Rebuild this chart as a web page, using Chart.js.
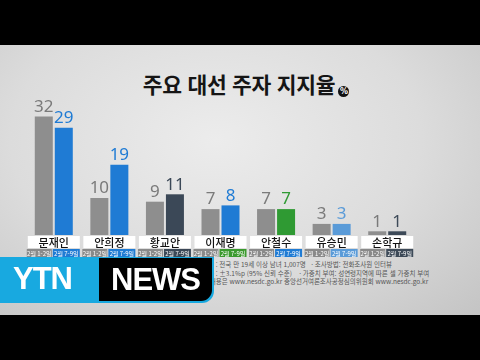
<!DOCTYPE html>
<html lang="ko">
<head>
<meta charset="utf-8">
<script src="https://cdn.jsdelivr.net/npm/chart.js@4"></script>
<style>
  html, body { margin: 0; padding: 0; background: #000; }
  body { width: 480px; height: 360px; position: relative; overflow: hidden; font-family: "Noto Sans CJK KR", "Noto Sans", sans-serif; }
  #panel {
    position: absolute; left: 0; top: 45px; width: 480px; height: 270px;
    background: radial-gradient(ellipse at 45% 35%, #ececec 0%, #dcdcdc 55%, #c4c4c4 100%);
  }
  #title {
    position: absolute; left: 6px; top: 68px; width: 480px; text-align: center;
    font-size: 21.5px; font-weight: 700; color: #151515; letter-spacing: -0.3px;
  }
  #title .pct {
    display: inline-block; width: 11px; height: 11px; border-radius: 50%;
    background: #111; color: #fff; font-size: 8px; line-height: 11px;
    text-align: center; vertical-align: -1px; margin-left: 3px; font-family: "DejaVu Sans", sans-serif;
  }
  #chartBox { position: absolute; left: 0; top: 0; width: 480px; height: 360px; }
  #notes {
    position: absolute; left: 190px; top: 260px; font-size: 6.5px; line-height: 8.5px;
    color: #555; white-space: nowrap;
  }
  #logo {
    position: absolute; left: 0; top: 257px; width: 214px; height: 46px;
    background: #18a9e0; border-radius: 0 0 12px 0;
  }
  #logo .ytn {
    position: absolute; left: 13px; top: 4px; color: #fff; font: 700 31px "Liberation Sans", Arial, sans-serif;
    letter-spacing: -1px;
  }
  #logo .news {
    position: absolute; left: 99px; top: 1px; width: 113px; height: 43px; background: #000;
    border-radius: 0 0 11px 0; color: #fff; font: 700 31px "Liberation Sans", Arial, sans-serif;
    text-align: center; line-height: 43px; letter-spacing: -1px;
  }
</style>
</head>
<body>
<div id="panel"></div>
<div id="title">주요 대선 주자 지지율<span class="pct">%</span></div>
<div id="notes">
  조사대상 : 전국 만 19세 이상 남녀 1,007명 &nbsp;&nbsp;· 조사방법: 전화조사원 인터뷰<br>
  표본오차 : ±3.1%p (95% 신뢰 수준) &nbsp;&nbsp;&nbsp;· 가중치 부여: 성연령지역에 따른 셀 가중치 부여<br>
  자세한 내용은 www.nesdc.go.kr 중앙선거여론조사공정심의위원회 www.nesdc.go.kr
</div>
<div id="chartBox"><canvas id="chart" width="480" height="360"></canvas></div>
<div id="logo"><span class="ytn">YTN</span><div class="news">NEWS</div></div>

<script>
// data
const candidates = ["문재인", "안희정", "황교안", "이재명", "안철수", "유승민", "손학규"];
const periods = ["2월 1-2일", "2월 7-9일"];
const firstPoll = [32, 10, 9, 7, 7, 3, 1];
const secondPoll = [29, 19, 11, 8, 7, 3, 1];

// colours
const grey = "#8e8e8e";
const secondColors = ["#1f7bd4", "#1f7bd4", "#3b4857", "#1f7bd4", "#2f9a33", "#5a9bd8", "#3d4a58"];
const tagColors = ["#1f7bd4", "#1f7bd4", "#3b4857", "#3b9a2e", "#1f7bd4", "#5a9bd8", "#3d4a58"];

const labelPlugin = {
  id: "labels",
  afterDatasetsDraw(chart) {
    const ctx = chart.ctx;
    const x = chart.scales.x;
    const base = chart.scales.y.getPixelForValue(0);
    ctx.save();
    // value numbers
    chart.data.datasets.forEach((ds, di) => {
      chart.getDatasetMeta(di).data.forEach((bar, i) => {
        ctx.fillStyle = di === 0 ? "#7a7a7a" : secondColors[i];
        ctx.font = "17px 'Noto Sans', sans-serif";
        ctx.textAlign = "center";
        ctx.textBaseline = "bottom";
        ctx.fillText(ds.data[i], bar.x, bar.y - 1);
      });
    });
    // name boxes and period tags
    candidates.forEach((name, i) => {
      const cx = x.getPixelForValue(i);
      ctx.fillStyle = "#fff";
      ctx.fillRect(cx - 26, base + 1, 52, 12);
      ctx.fillStyle = "#111";
      ctx.font = "500 11px 'Noto Sans CJK KR', sans-serif";
      ctx.textAlign = "center";
      ctx.textBaseline = "middle";
      ctx.fillText(name, cx, base + 7.5);

      ctx.fillStyle = "#8a8a8a";
      ctx.fillRect(cx - 27, base + 14, 25, 8);
      ctx.fillStyle = tagColors[i];
      ctx.fillRect(cx - 1, base + 14, 27, 8);
      ctx.fillStyle = "#fff";
      ctx.font = "6px 'Noto Sans CJK KR', sans-serif";
      ctx.fillText(periods[0], cx - 14.5, base + 18.5);
      ctx.fillText(periods[1], cx + 12.5, base + 18.5);
    });
    ctx.restore();
  }
};

new Chart(document.getElementById("chart"), {
  type: "bar",
  data: {
    labels: candidates,
    datasets: [
      { label: periods[0], data: firstPoll, backgroundColor: grey, barPercentage: 0.9, categoryPercentage: 0.72 },
      { label: periods[1], data: secondPoll, backgroundColor: secondColors, barPercentage: 0.9, categoryPercentage: 0.72 }
    ]
  },
  options: {
    responsive: false,
    animation: false,
    layout: { padding: { left: 26, right: 65, top: 87, bottom: 125 } },
    plugins: { legend: { display: false }, tooltip: { enabled: false } },
    scales: {
      x: { display: false },
      y: { display: false, min: 0, max: 40 }
    }
  },
  plugins: [labelPlugin]
});
</script>
</body>
</html>
